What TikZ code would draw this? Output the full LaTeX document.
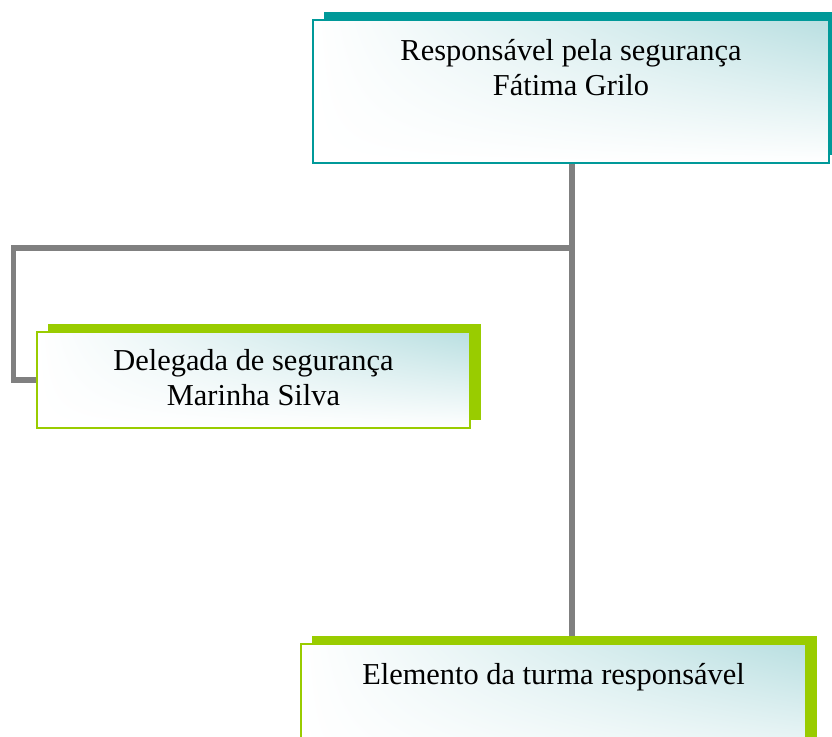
\documentclass[tikz,border=0pt]{standalone}
\usepackage{fontspec}
\setmainfont{Liberation Serif}
\usetikzlibrary{shadows,shadings,backgrounds}

\definecolor{tealbar}{HTML}{009999}
\definecolor{limebar}{HTML}{99CC00}
\definecolor{linegray}{HTML}{808080}
\definecolor{paleblue}{HTML}{B9DFE1}

\begin{document}
\begin{tikzpicture}[
  box/.style={rectangle,line width=1.4pt,inner sep=0pt,
      upper left=white,lower left=white,lower right=white,upper right=paleblue},
  tealbox/.style={box,draw=tealbar,drop shadow={shadow xshift=0.22cm,shadow yshift=0.17cm,fill=tealbar,opacity=1}},
  limebox/.style={box,draw=limebar,drop shadow={shadow xshift=0.22cm,shadow yshift=0.16cm,fill=limebar,opacity=1}},
  conn/.style={line width=3.4pt,color=linegray},
  txt/.style={align=center,font=\fontsize{17.3}{20}\selectfont}
]
\clip (0,0) rectangle (16.64,-14.72);
\useasboundingbox (0,0) rectangle (16.64,-14.72);

\node[tealbox,minimum width=10.32cm,minimum height=2.86cm] (resp) at (11.42,-1.83) {};
\node[txt,anchor=north] (resptext) at ([yshift=-0.28cm]resp.north) {Responsável pela segurança\\Fátima Grilo};

\node[limebox,minimum width=8.66cm,minimum height=1.92cm] (deleg) at (5.07,-7.60) {};
\node[txt] (delegtext) at ([yshift=0.04cm]deleg.center) {Delegada de segurança\\Marinha Silva};

\node[limebox,minimum width=10.10cm,minimum height=2.86cm] (elem) at (11.07,-14.31) {};
\node[txt,anchor=north] (elemtext) at ([yshift=-0.28cm]elem.north) {Elemento da turma responsável};

\coordinate (split) at (11.44,-4.96);
\coordinate (corner) at (0.27,-4.96);

\begin{scope}[on background layer]
\draw[conn] (resp.south -| split) -- (elem.north -| split);
\draw[conn] (split) -- (corner) |- (deleg.west);
\end{scope}

\end{tikzpicture}
\end{document}
